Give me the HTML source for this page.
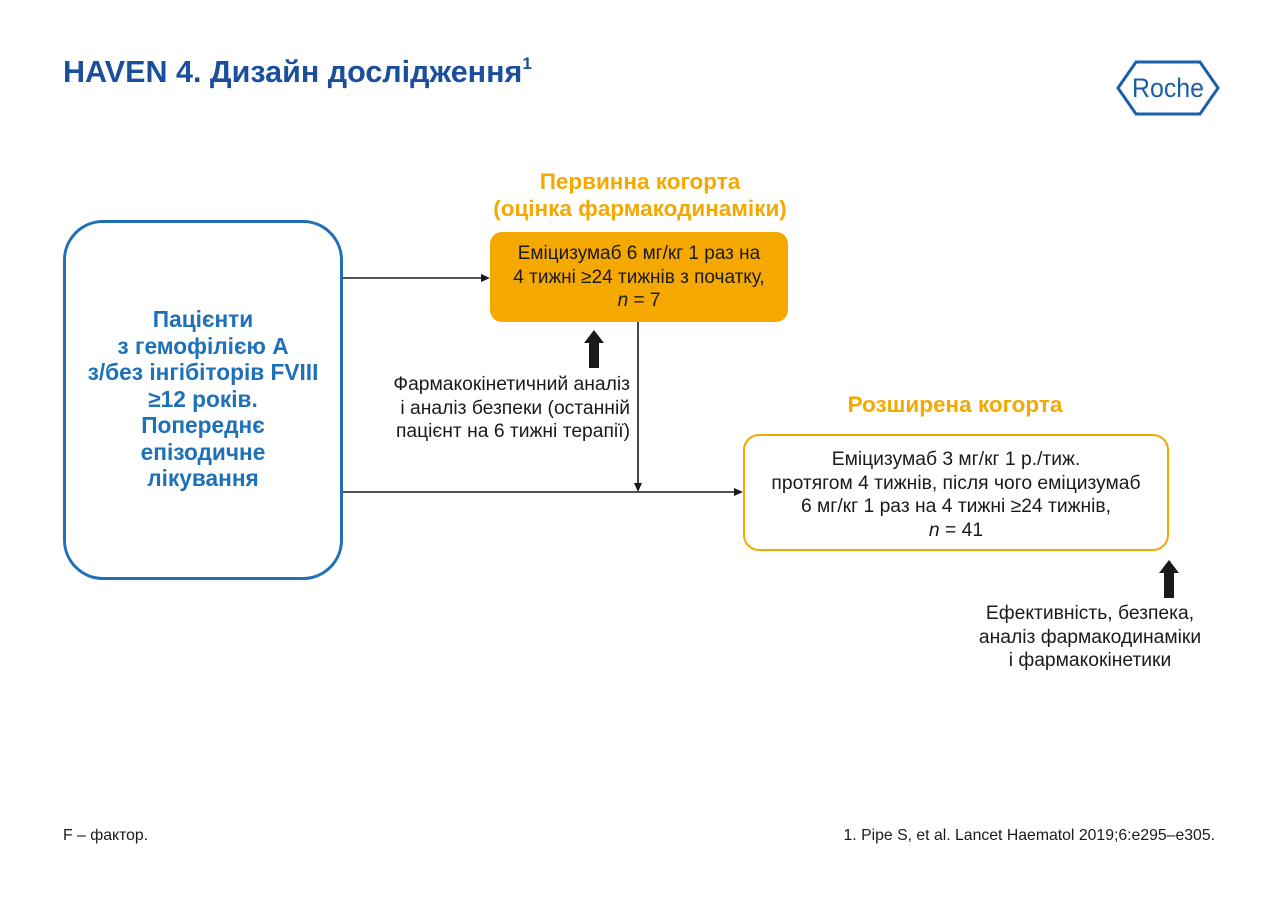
<!DOCTYPE html>
<html><head><meta charset="utf-8"><style>
body{margin:0;width:1280px;height:902px;background:#fff;position:relative;font-family:"Liberation Sans",sans-serif;overflow:hidden}
.a{position:absolute}
.t{color:#1a1a1a;font-size:19.3px;line-height:23.5px;text-align:center}
</style></head><body>
<div class="a" style="left:63px;top:54px;font-size:30.5px;font-weight:bold;color:#1b4f9c">HAVEN 4. Дизайн дослідження<sup style="font-size:17px;vertical-align:13px">1</sup></div>
<svg class="a" style="left:1116px;top:60px" width="104" height="56"><polygon points="2,28 20,2 84,2 102,28 84,54 20,54" fill="none" stroke="#1b5fab" stroke-width="3"/><text x="52" y="37" text-anchor="middle" font-family="Liberation Sans" font-size="27" fill="#1b5fab" textLength="72" lengthAdjust="spacingAndGlyphs">Roche</text></svg>

<div class="a" style="left:63px;top:220px;width:274px;height:354px;border:3px solid #1e70b8;border-radius:40px"></div>
<div class="a" style="left:53px;top:306px;width:300px;text-align:center;color:#1e70b8;font-weight:bold;font-size:22.7px;line-height:26.5px">Пацієнти<br>з гемофілією А<br>з/без інгібіторів FVIII<br>≥12 років.<br>Попереднє<br>епізодичне<br>лікування</div>

<div class="a" style="left:420px;top:168px;width:440px;text-align:center;color:#f5a800;font-weight:bold;font-size:22.5px;line-height:27px">Первинна когорта<br>(оцінка фармакодинаміки)</div>
<div class="a t" style="left:490px;top:232px;width:298px;height:90px;background:#f5a800;border-radius:12px;padding-top:10px;box-sizing:border-box;font-size:19px">Еміцизумаб 6 мг/кг 1 раз на<br>4 тижні ≥24 тижнів з початку,<br><i>n</i> = 7</div>

<div class="a" style="left:700px;top:392px;width:510px;text-align:center;color:#f5a800;font-weight:bold;font-size:22.5px">Розширена когорта</div>
<div class="a t" style="left:743px;top:434px;width:426px;height:117px;border:2px solid #f5a800;border-radius:16px;padding-top:12px;box-sizing:border-box">Еміцизумаб 3 мг/кг 1 р./тиж.<br>протягом 4 тижнів, після чого еміцизумаб<br>6 мг/кг 1 раз на 4 тижні ≥24 тижнів,<br><i>n</i> = 41</div>

<div class="a t" style="left:350px;top:373px;width:280px;text-align:right">Фармакокінетичний аналіз<br>і аналіз безпеки (останній<br>пацієнт на 6 тижні терапії)</div>
<div class="a t" style="left:940px;top:602px;width:300px">Ефективність, безпека,<br>аналіз фармакодинаміки<br>і фармакокінетики</div>

<svg class="a" style="left:0;top:0" width="1280" height="902">
<g stroke="#1a1a1a" stroke-width="1.6" fill="none">
<line x1="343" y1="278" x2="484" y2="278"/>
<line x1="343" y1="492" x2="737" y2="492"/>
<line x1="638" y1="322" x2="638" y2="486"/>
</g>
<g fill="#1a1a1a">
<polygon points="490,278 481,274 481,282"/>
<polygon points="743,492 734,488 734,496"/>
<polygon points="638,492 634,483 642,483"/>
<polygon points="594,330 584,343 589,343 589,368 599,368 599,343 604,343"/>
<polygon points="1169,560 1159,573 1164,573 1164,598 1174,598 1174,573 1179,573"/>
</g>
</svg>

<div class="a" style="left:63px;top:827px;font-size:15.8px;color:#1a1a1a">F – фактор.</div>
<div class="a" style="left:760px;top:827px;width:455px;text-align:right;font-size:15.8px;color:#1a1a1a">1. Pipe S, et al. Lancet Haematol 2019;6:e295–e305.</div>
</body></html>
